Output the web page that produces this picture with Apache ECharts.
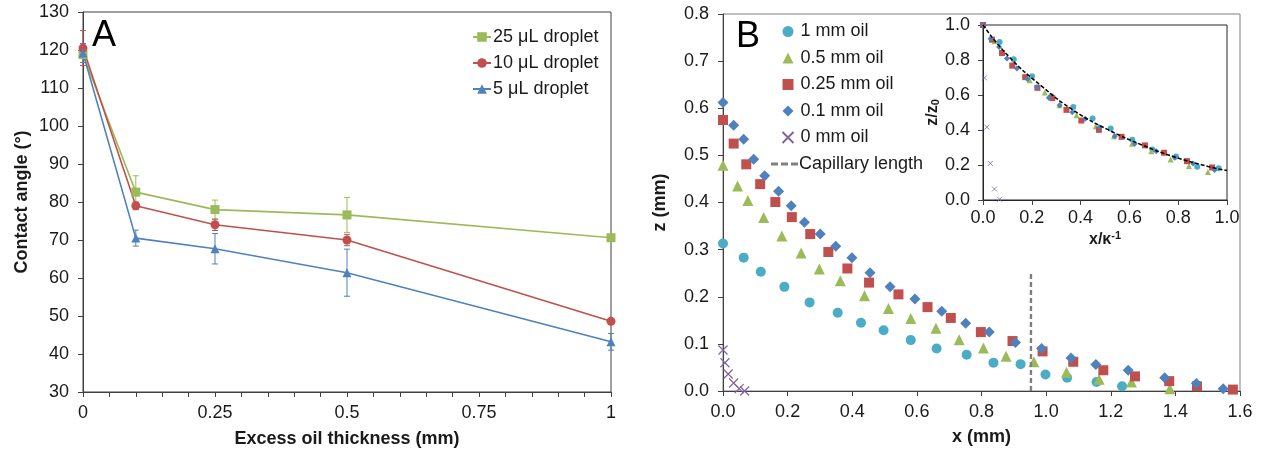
<!DOCTYPE html>
<html><head><meta charset="utf-8">
<script src="https://cdn.jsdelivr.net/npm/echarts@6/dist/echarts.min.js"></script>
<style>html,body{margin:0;padding:0;background:#fff}#c{width:1266px;height:454px}</style>
</head><body><div id="c"></div>
<script>
// ---------- Panel A data ----------
const thickness = [0, 0.1, 0.25, 0.5, 1];
const angle25 = [118.8, 82.6, 78.0, 76.6, 70.6];
const err25   = [1.0, 4.3, 2.5, 4.6, 0.5];
const angle10 = [120.5, 79.0, 74.0, 70.0, 48.6];
const err10   = [4.6, 1.0, 1.5, 1.5, 0.5];
const angle5  = [119.2, 70.5, 67.7, 61.4, 43.2];
const err5    = [2.5, 2.1, 4.0, 6.2, 2.2];

// ---------- Panel B main data (x mm, z mm) ----------
const oil1x = [0, 0.064, 0.117, 0.190, 0.268, 0.355, 0.427, 0.497, 0.581, 0.661, 0.754, 0.837, 0.921, 0.998, 1.065, 1.156, 1.235];
const oil1z = [0.313, 0.283, 0.253, 0.221, 0.188, 0.166, 0.145, 0.129, 0.108, 0.090, 0.077, 0.060, 0.057, 0.035, 0.028, 0.019, 0.010];
const oil05x = [0, 0.045, 0.077, 0.126, 0.182, 0.242, 0.298, 0.363, 0.438, 0.512, 0.581, 0.659, 0.731, 0.806, 0.876, 0.962, 1.063, 1.164, 1.264, 1.383];
const oil05z = [0.479, 0.435, 0.404, 0.368, 0.329, 0.293, 0.259, 0.234, 0.202, 0.175, 0.154, 0.133, 0.109, 0.091, 0.074, 0.062, 0.040, 0.025, 0.019, 0.005];
const oil025x = [0, 0.033, 0.072, 0.115, 0.162, 0.213, 0.270, 0.326, 0.385, 0.452, 0.543, 0.633, 0.705, 0.798, 0.896, 0.989, 1.084, 1.177, 1.275, 1.381, 1.467, 1.578];
const oil025z = [0.575, 0.525, 0.481, 0.439, 0.401, 0.369, 0.333, 0.295, 0.260, 0.230, 0.205, 0.178, 0.155, 0.125, 0.106, 0.084, 0.062, 0.044, 0.031, 0.021, 0.010, 0.003];
const oil01x = [0, 0.033, 0.064, 0.095, 0.129, 0.172, 0.211, 0.252, 0.301, 0.349, 0.399, 0.455, 0.517, 0.594, 0.677, 0.751, 0.824, 0.905, 0.986, 1.077, 1.154, 1.254, 1.367, 1.465, 1.548];
const oil01z = [0.612, 0.564, 0.534, 0.492, 0.457, 0.424, 0.393, 0.358, 0.333, 0.307, 0.283, 0.251, 0.221, 0.195, 0.169, 0.144, 0.125, 0.103, 0.090, 0.070, 0.056, 0.044, 0.028, 0.016, 0.005];
const oil0x = [0, 0.006, 0.016, 0.033, 0.050, 0.067];
const oil0z = [0.087, 0.060, 0.036, 0.017, 0.005, 0.000];
const capX = [0.953, 0.953];
const capZ = [0, 0.253];

// ---------- Panel B inset data (x/κ⁻¹, z/z0) ----------
const in1x = [0, 0.068, 0.126, 0.201, 0.280, 0.370, 0.449, 0.523, 0.612, 0.694, 0.791, 0.878, 0.966];
const in1z = [1.0, 0.903, 0.804, 0.707, 0.593, 0.532, 0.466, 0.409, 0.344, 0.289, 0.249, 0.190, 0.181];
const in05x = [0, 0.048, 0.120, 0.191, 0.253, 0.314, 0.383, 0.462, 0.537, 0.611, 0.690, 0.769, 0.844, 0.922];
const in05z = [1.0, 0.907, 0.770, 0.684, 0.614, 0.542, 0.485, 0.422, 0.365, 0.321, 0.279, 0.232, 0.194, 0.160];
const in025x = [0, 0.037, 0.078, 0.120, 0.173, 0.223, 0.284, 0.342, 0.403, 0.475, 0.568, 0.664, 0.742, 0.836, 0.939];
const in025z = [1.0, 0.916, 0.840, 0.768, 0.702, 0.641, 0.582, 0.515, 0.454, 0.401, 0.361, 0.312, 0.270, 0.222, 0.186];
const in01x = [0, 0.031, 0.066, 0.098, 0.139, 0.182, 0.221, 0.270, 0.314, 0.366, 0.419, 0.478, 0.540, 0.622, 0.710, 0.786, 0.861, 0.949];
const in01z = [1.0, 0.922, 0.875, 0.808, 0.751, 0.692, 0.644, 0.584, 0.542, 0.502, 0.464, 0.416, 0.365, 0.321, 0.278, 0.241, 0.209, 0.171];
const in0x = [0, 0.006, 0.016, 0.030, 0.047, 0.068];
const in0z = [1.0, 0.698, 0.416, 0.209, 0.063, 0.004];
const fitX = [0, 0.102, 0.239, 0.376, 0.512, 0.649, 0.785, 0.922, 1.0];
const fitZ = [1.0, 0.825, 0.652, 0.508, 0.402, 0.316, 0.246, 0.192, 0.168];

// tick labels
const ticksA = ['0', '0.25', '0.5', '0.75', '1'];

const zip = (a, b) => a.map((v, i) => [v, b[i]]);
const errData = (vals, errs) => thickness.map((x, i) => [x, vals[i] - errs[i], vals[i] + errs[i]]);

const C = {teal:'#4BACC6', green:'#9BBB59', red:'#C0504D', blue:'#4F81BD', purple:'#8064A2'};
const FONT = "'Liberation Sans', Arial, sans-serif";
const TXT = '#1a1a1a';
const AX = '#404040';
const FS = 18;

function errSeries(vals, errs, color) {
  return {
    type: 'custom', xAxisIndex: 0, yAxisIndex: 0, z: 1, silent: true,
    data: errData(vals, errs),
    renderItem(params, api) {
      const x = api.value(0), lo = api.value(1), hi = api.value(2);
      const p1 = api.coord([x, hi]), p2 = api.coord([x, lo]);
      const w = 3;
      const st = {stroke: color, lineWidth: 1};
      return {type: 'group', children: [
        {type: 'line', shape: {x1: p1[0], y1: p1[1], x2: p2[0], y2: p2[1]}, style: st},
        {type: 'line', shape: {x1: p1[0]-w, y1: p1[1], x2: p1[0]+w, y2: p1[1]}, style: st},
        {type: 'line', shape: {x1: p2[0]-w, y1: p2[1], x2: p2[0]+w, y2: p2[1]}, style: st}
      ]};
    }
  };
}

const axisLineStyle = {show: true, lineStyle: {color: AX, width: 1}};
const tickStyle = {show: true, inside: false, length: 5, lineStyle: {color: AX}};
const lab = (extra) => Object.assign({color: TXT, fontSize: FS, fontFamily: FONT}, extra || {});
const nameStyle = {color: TXT, fontSize: FS, fontWeight: 'bold', fontFamily: FONT};
const legendText = {color: TXT, fontSize: FS, fontFamily: FONT};

const option = {
  animation: false,
  backgroundColor: '#fff',
  textStyle: {fontFamily: FONT},
  grid: [
    {left: 83, top: 12, width: 528, height: 380, show: true, borderColor: '#404040', borderWidth: 1, backgroundColor: 'transparent'},
    {left: 723, top: 14, width: 517, height: 377, show: true, borderColor: '#7f7f7f', borderWidth: 1, backgroundColor: 'transparent'},
    {left: 983, top: 25, width: 244, height: 175, show: true, borderColor: '#262626', borderWidth: 1, backgroundColor: '#fff', z: 5}
  ],
  xAxis: [
    {gridIndex: 0, type: 'value', min: 0, max: 1, interval: 0.05,
     axisLine: axisLineStyle, axisTick: tickStyle, splitLine: {show: false},
     axisLabel: lab({margin: 12, showMaxLabel: true, formatter: v => {
       const k = v / 0.25; if (Math.abs(k - Math.round(k)) > 1e-6) return ''; return ticksA[Math.round(k)]; }}),
     name: 'Excess oil thickness (mm)', nameLocation: 'middle', nameGap: 38, nameTextStyle: nameStyle},
    {gridIndex: 1, type: 'value', min: 0, max: 1.6, interval: 0.2,
     axisLine: axisLineStyle, axisTick: tickStyle, splitLine: {show: false},
     axisLabel: lab({margin: 12, formatter: v => v.toFixed(1)}),
     name: 'x (mm)', nameLocation: 'middle', nameGap: 37, nameTextStyle: nameStyle},
    {gridIndex: 2, type: 'value', min: 0, max: 1, interval: 0.2, z: 6,
     axisLine: {show: true, lineStyle: {color: '#262626'}}, axisTick: tickStyle, splitLine: {show: false},
     axisLabel: lab({margin: 9, formatter: v => v.toFixed(1)}),
     name: '{a|x/κ}{s|-1}', nameLocation: 'middle', nameGap: 30,
     nameTextStyle: Object.assign({}, nameStyle, {rich: {
       a: {fontSize: 16, fontWeight: 'bold', color: TXT, fontFamily: FONT},
       s: {fontSize: 11, fontWeight: 'bold', color: TXT, fontFamily: FONT, verticalAlign: 'top', padding: [0, 0, 8, 0]}}})}
  ],
  yAxis: [
    {gridIndex: 0, type: 'value', min: 30, max: 130, interval: 10,
     axisLine: axisLineStyle, axisTick: tickStyle, splitLine: {show: false},
     axisLabel: lab({margin: 14}),
     name: 'Contact angle (°)', nameLocation: 'middle', nameGap: 52, nameTextStyle: nameStyle},
    {gridIndex: 1, type: 'value', min: 0, max: 0.8, interval: 0.1,
     axisLine: axisLineStyle, axisTick: tickStyle, splitLine: {show: false},
     axisLabel: lab({margin: 14, formatter: v => v.toFixed(1)}),
     name: 'z (mm)', nameLocation: 'middle', nameGap: 54, nameTextStyle: nameStyle},
    {gridIndex: 2, type: 'value', min: 0, max: 1, interval: 0.2, z: 6,
     axisLine: {show: true, lineStyle: {color: '#262626'}}, axisTick: tickStyle, splitLine: {show: false},
     axisLabel: lab({margin: 13, formatter: v => v.toFixed(1)}),
     name: '{a|z/z}{s|0}', nameLocation: 'middle', nameGap: 40,
     nameTextStyle: Object.assign({}, nameStyle, {rich: {
       a: {fontSize: 16, fontWeight: 'bold', color: TXT, fontFamily: FONT},
       s: {fontSize: 11, fontWeight: 'bold', color: TXT, fontFamily: FONT, verticalAlign: 'bottom', padding: [6, 0, 0, 0]}}})}
  ],
  legend: [
    {orient: 'vertical', left: 472, top: 28, padding: 0, itemWidth: 18, itemHeight: 12, itemGap: 8,
     textStyle: Object.assign({padding: [0, 0, 0, -3]}, legendText),
     data: ['25 μL droplet', '10 μL droplet', '5 μL droplet']},
    {orient: 'vertical', left: 780, top: 22.5, padding: 0, itemWidth: 11, itemHeight: 11, itemGap: 8.5,
     textStyle: Object.assign({padding: [0, 0, 0, 2]}, legendText),
     data: ['1 mm oil', '0.5 mm oil', '0.25 mm oil', '0.1 mm oil', '0 mm oil']},
    {orient: 'vertical', left: 771, top: 155, padding: 0, itemWidth: 27, itemHeight: 3,
     textStyle: Object.assign({padding: [0, 0, 0, -4]}, legendText),
     data: [{name: 'Capillary length', icon: 'path://M0,0h7v3h-7zM10,0h7v3h-7zM20,0h7v3h-7z'}]}
  ],
  graphic: [
    {type: 'text', left: 92, top: 18, style: {text: 'A', fontSize: 36, fontFamily: FONT, fill: '#000'}},
    {type: 'text', left: 736, top: 19, style: {text: 'B', fontSize: 36, fontFamily: FONT, fill: '#000'}}
  ],
  series: [
    errSeries(angle25, err25, C.green),
    errSeries(angle10, err10, C.red),
    errSeries(angle5, err5, C.blue),
    {name: '25 μL droplet', type: 'line', xAxisIndex: 0, yAxisIndex: 0, data: zip(thickness, angle25),
     symbol: 'rect', symbolSize: 9, itemStyle: {color: C.green}, lineStyle: {color: C.green, width: 1.6}, z: 3},
    {name: '10 μL droplet', type: 'line', xAxisIndex: 0, yAxisIndex: 0, data: zip(thickness, angle10),
     symbol: 'circle', symbolSize: 9, itemStyle: {color: C.red}, lineStyle: {color: C.red, width: 1.6}, z: 3},
    {name: '5 μL droplet', type: 'line', xAxisIndex: 0, yAxisIndex: 0, data: zip(thickness, angle5),
     symbol: 'triangle', symbolSize: 9, itemStyle: {color: C.blue}, lineStyle: {color: C.blue, width: 1.6}, z: 3},

    {name: '1 mm oil', type: 'scatter', xAxisIndex: 1, yAxisIndex: 1, data: zip(oil1x, oil1z),
     symbol: 'circle', symbolSize: 10, itemStyle: {color: C.teal, opacity: 1}},
    {name: '0.5 mm oil', type: 'scatter', xAxisIndex: 1, yAxisIndex: 1, data: zip(oil05x, oil05z),
     symbol: 'triangle', symbolSize: 11, itemStyle: {color: C.green, opacity: 1}},
    {name: '0.25 mm oil', type: 'scatter', xAxisIndex: 1, yAxisIndex: 1, data: zip(oil025x, oil025z),
     symbol: 'rect', symbolSize: 10, itemStyle: {color: C.red, opacity: 1}},
    {name: '0.1 mm oil', type: 'scatter', xAxisIndex: 1, yAxisIndex: 1, data: zip(oil01x, oil01z),
     symbol: 'diamond', symbolSize: 11, itemStyle: {color: C.blue, opacity: 1}},
    {name: '0 mm oil', type: 'scatter', xAxisIndex: 1, yAxisIndex: 1, data: zip(oil0x, oil0z),
     symbol: 'path://M0,0L10,10M10,0L0,10', symbolSize: 9, itemStyle: {color: 'none', borderColor: C.purple, borderWidth: 1.2, opacity: 1}},
    {name: 'Capillary length', type: 'line', xAxisIndex: 1, yAxisIndex: 1, data: zip(capX, capZ),
     symbol: 'none', lineStyle: {color: '#808080', width: 2.4, type: [5, 3]}, itemStyle: {color: '#808080'}},

    {name: 'i1', type: 'scatter', xAxisIndex: 2, yAxisIndex: 2, data: zip(in1x, in1z), z: 7,
     symbol: 'circle', symbolSize: 6, itemStyle: {color: C.teal, opacity: 1}},
    {name: 'i05', type: 'scatter', xAxisIndex: 2, yAxisIndex: 2, data: zip(in05x, in05z), z: 7,
     symbol: 'triangle', symbolSize: 6, itemStyle: {color: C.green, opacity: 1}},
    {name: 'i025', type: 'scatter', xAxisIndex: 2, yAxisIndex: 2, data: zip(in025x, in025z), z: 7,
     symbol: 'rect', symbolSize: 6, itemStyle: {color: C.red, opacity: 1}},
    {name: 'i01', type: 'scatter', xAxisIndex: 2, yAxisIndex: 2, data: zip(in01x, in01z), z: 7,
     symbol: 'diamond', symbolSize: 6, itemStyle: {color: C.blue, opacity: 1}},
    {name: 'i0', type: 'scatter', xAxisIndex: 2, yAxisIndex: 2, data: zip(in0x, in0z), z: 7,
     symbol: 'path://M0,0L10,10M10,0L0,10', symbolSize: 5, itemStyle: {color: 'none', borderColor: C.purple, borderWidth: 0.8, opacity: 1}},
    {name: 'fit', type: 'line', xAxisIndex: 2, yAxisIndex: 2, data: zip(fitX, fitZ), z: 8, smooth: true,
     symbol: 'none', lineStyle: {color: '#000', width: 1.5, type: [4, 2]}}
  ]
};
echarts.init(document.getElementById('c'), null, {renderer: 'canvas'}).setOption(option);
</script></body></html>
